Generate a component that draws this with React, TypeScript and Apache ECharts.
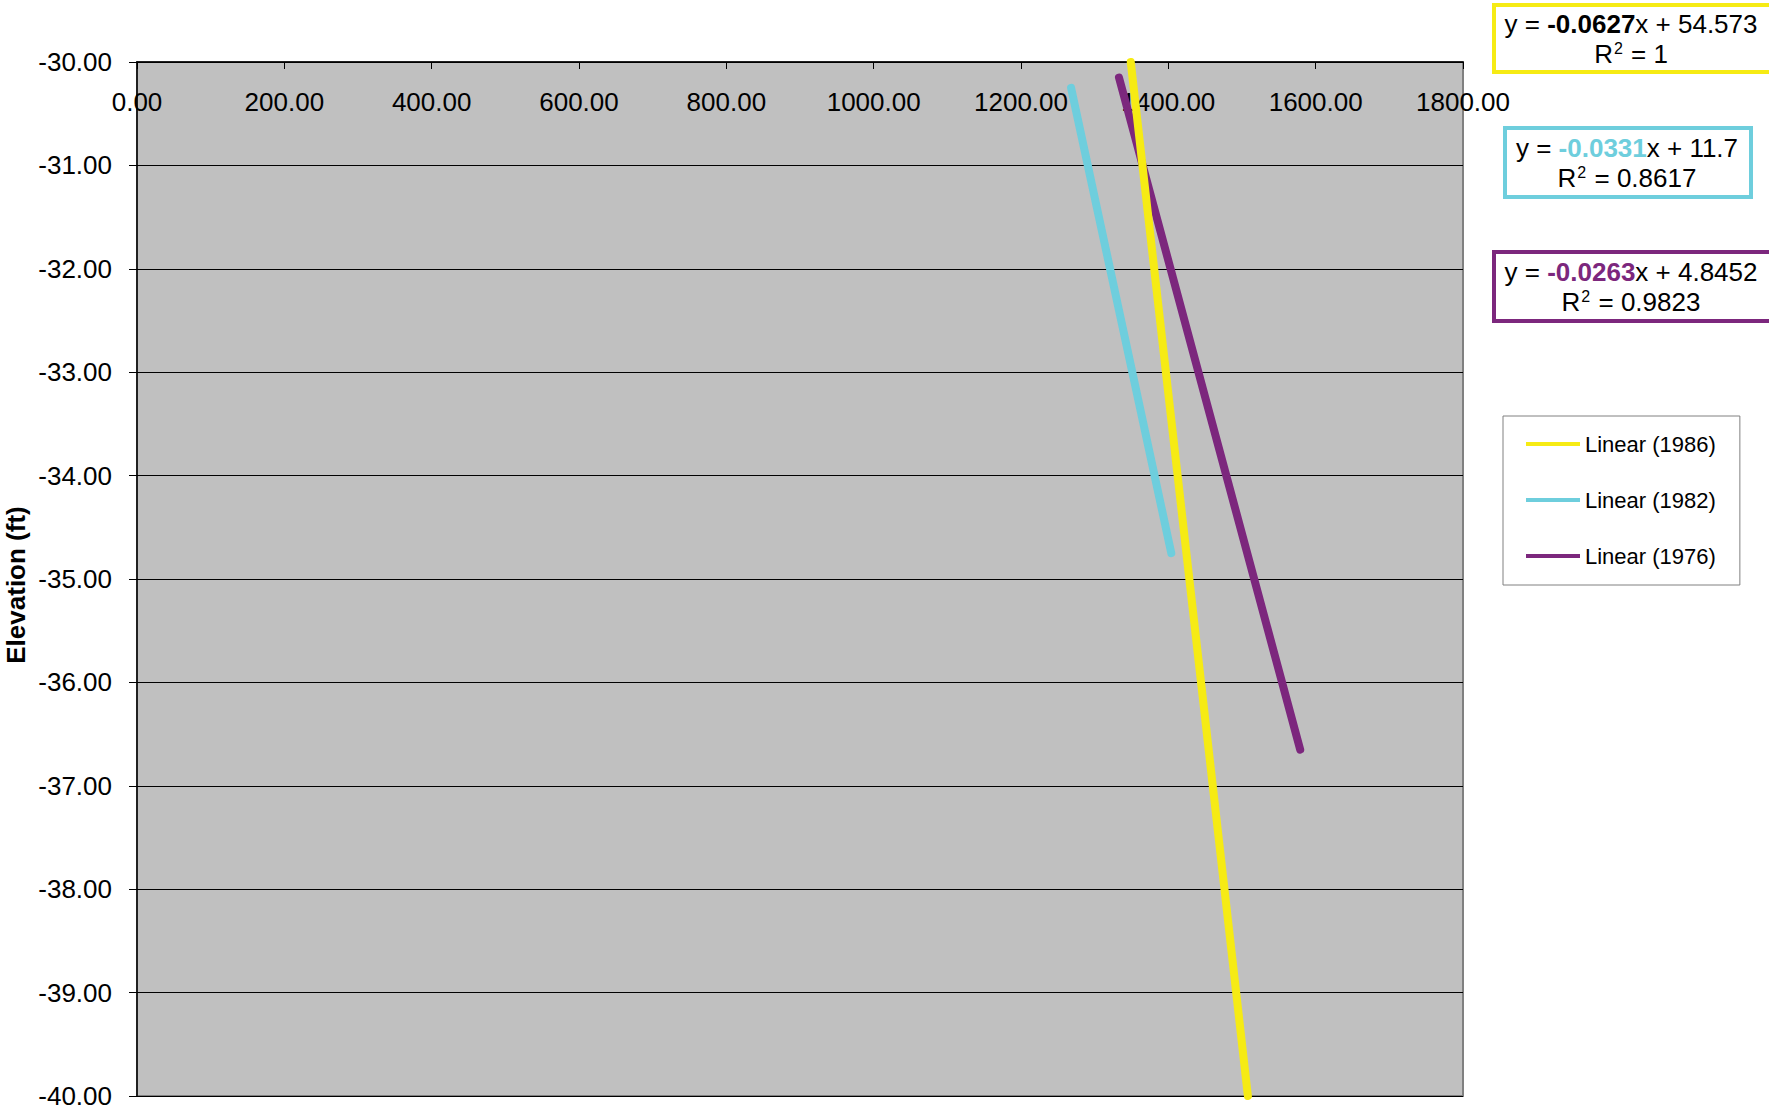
import React, { useEffect, useRef } from "react";
import * as echarts from "echarts";

// ---- data ----
const seriesNames = ["Linear (1986)", "Linear (1982)", "Linear (1976)"];
const seriesColors = ["#F6EB14", "#6ECEDD", "#7C277D"];
const distance1986 = [1349, 1508];
const elevation1986 = [-30.0, -40.0];
const distance1982 = [1268, 1404];
const elevation1982 = [-30.25, -34.75];
const distance1976 = [1333, 1579];
const elevation1976 = [-30.15, -36.65];

const eqSlopes = ["-0.0627", "-0.0331", "-0.0263"];
const eqIntercepts = ["54.573", "11.7", "4.8452"];
const eqR2 = ["1", "0.8617", "0.9823"];

const xMin = 0;
const xMax = 1800;
const xStep = 200;
const yMin = -40;
const yMax = -30;
const yStep = 1;
const yAxisTitle = "Elevation (ft)";

const FONT = "'Liberation Sans', Arial, sans-serif";

function pairs(xs: number[], ys: number[]) {
  return xs.map((x, i) => [x, ys[i]]);
}

export default function App() {
  const ref = useRef<HTMLDivElement>(null);

  useEffect(() => {
    if (!ref.current) return;
    const chart = echarts.init(ref.current, undefined, { renderer: "svg" });

    const seriesData = [
      pairs(distance1986, elevation1986),
      pairs(distance1982, elevation1982),
      pairs(distance1976, elevation1976),
    ];

    // equation boxes geometry (layout only)
    const boxes = [
      { x: 1494, y: 5, w: 280, h: 67, cx: 1631, cy: 39, slopeColor: "#000" },
      { x: 1505, y: 128, w: 246, h: 69, cx: 1627, cy: 163, slopeColor: seriesColors[1] },
      { x: 1494, y: 252, w: 280, h: 69, cx: 1631, cy: 287, slopeColor: seriesColors[2] },
    ];

    const graphics: any[] = [];
    boxes.forEach((b, i) => {
      graphics.push({
        type: "rect",
        shape: { x: b.x, y: b.y, width: b.w, height: b.h },
        style: { fill: "#fff", stroke: seriesColors[i], lineWidth: 4 },
        z: 100,
      });
      graphics.push({
        type: "text",
        x: b.cx,
        y: b.cy,
        z: 101,
        style: {
          text: `{n|y = }{s|${eqSlopes[i]}}{n|x + ${eqIntercepts[i]}}\n{n|R}{p|2}{n| = ${eqR2[i]}}`,
          align: "center",
          verticalAlign: "middle",
          rich: {
            n: { fontSize: 26, fontFamily: FONT, fill: "#000", lineHeight: 30 },
            p: {
              fontSize: 16,
              fontFamily: FONT,
              fill: "#000",
              lineHeight: 30,
              padding: [0, 1, 12, 1],
            },
            s: {
              fontSize: 26,
              fontFamily: FONT,
              fontWeight: "bold",
              fill: b.slopeColor,
              lineHeight: 30,
            },
          },
        },
      });
    });
    graphics.push({
      type: "text",
      x: 16,
      y: 585,
      rotation: Math.PI / 2,
      style: {
        text: yAxisTitle,
        fontSize: 26,
        fontWeight: "bold",
        fontFamily: FONT,
        fill: "#000",
        align: "center",
        verticalAlign: "middle",
      },
    });

    chart.setOption({
      animation: false,
      textStyle: { fontFamily: FONT },
      grid: {
        left: 137,
        top: 62,
        width: 1326,
        height: 1034,
        show: true,
        backgroundColor: "#C0C0C0",
        borderColor: "#808080",
        borderWidth: 2,
      },
      xAxis: {
        type: "value",
        position: "top",
        min: xMin,
        max: xMax,
        interval: xStep,
        axisLine: { show: true, onZero: false, lineStyle: { color: "#000", width: 1.5 } },
        axisTick: { show: true, inside: true, length: 7, lineStyle: { color: "#000" } },
        axisLabel: {
          inside: true,
          margin: 27,
          fontSize: 26,
          color: "#000",
          fontFamily: FONT,
          showMinLabel: true,
          showMaxLabel: true,
          formatter: (v: number) => v.toFixed(2),
        },
        splitLine: { show: false },
      },
      yAxis: {
        type: "value",
        min: yMin,
        max: yMax,
        interval: yStep,
        axisLine: { show: true, onZero: false, lineStyle: { color: "#000", width: 1.5 } },
        axisTick: { show: true, inside: false, length: 8, lineStyle: { color: "#000" } },
        axisLabel: {
          margin: 25,
          fontSize: 26,
          color: "#000",
          fontFamily: FONT,
          showMinLabel: true,
          showMaxLabel: true,
          formatter: (v: number) => v.toFixed(2),
        },
        splitLine: { show: true, lineStyle: { color: "#000", width: 1 } },
      },
      legend: {
        orient: "vertical",
        left: 1503,
        top: 416,
        padding: [17, 24, 18, 23],
        borderColor: "#808080",
        borderWidth: 1,
        backgroundColor: "#fff",
        icon: "rect",
        itemWidth: 54,
        itemHeight: 4,
        itemGap: 34,
        textStyle: { fontSize: 22, lineHeight: 22, color: "#000", fontFamily: FONT },
        data: seriesNames,
      },
      series: seriesNames.map((name, i) => ({
        name,
        type: "line",
        data: seriesData[i],
        symbol: "none",
        showSymbol: false,
        color: seriesColors[i],
        itemStyle: { color: seriesColors[i] },
        lineStyle: { color: seriesColors[i], width: 8, cap: "round" },
        z: 5 - i,
      })),
      graphic: graphics,
    });

    return () => chart.dispose();
  }, []);

  return (
    <div
      ref={ref}
      style={{ position: "fixed", left: 0, top: 0, width: 1769, height: 1111, background: "#fff" }}
    />
  );
}
